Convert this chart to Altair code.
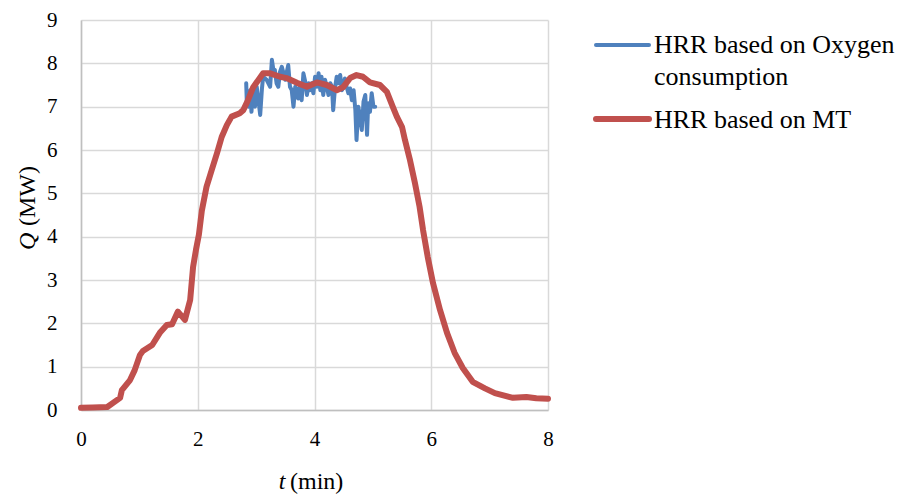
import altair as alt
import pandas as pd

# Heat release rate from mass-transfer (MT) measurement
mt_t = [0.00, 0.20, 0.45, 0.67, 0.70, 0.84, 0.92, 1.01, 1.06, 1.22,
        1.35, 1.47, 1.56, 1.66, 1.78, 1.87, 1.92, 1.97, 2.02, 2.07,
        2.15, 2.24, 2.33, 2.41, 2.50, 2.58, 2.72, 2.78, 2.86, 2.95,
        3.12, 3.24, 3.41, 3.52, 3.70, 3.87, 4.04, 4.21, 4.38, 4.49,
        4.61, 4.72, 4.83, 4.95, 5.12, 5.24, 5.34, 5.41, 5.50, 5.55,
        5.63, 5.72, 5.80, 5.86, 5.94, 6.03, 6.15, 6.27, 6.40, 6.54,
        6.71, 6.92, 7.09, 7.40, 7.63, 7.80, 8.00]
mt_q = [0.05, 0.06, 0.07, 0.28, 0.46, 0.69, 0.92, 1.27, 1.36, 1.50,
        1.78, 1.96, 1.98, 2.27, 2.08, 2.54, 3.30, 3.70, 4.05, 4.60,
        5.15, 5.54, 5.93, 6.30, 6.58, 6.77, 6.85, 6.92, 7.15, 7.45,
        7.77, 7.77, 7.69, 7.66, 7.55, 7.46, 7.56, 7.50, 7.38, 7.45,
        7.66, 7.73, 7.69, 7.56, 7.50, 7.34, 7.00, 6.77, 6.53, 6.23,
        5.80, 5.24, 4.69, 4.15, 3.53, 2.93, 2.31, 1.78, 1.32, 0.97,
        0.65, 0.50, 0.39, 0.28, 0.30, 0.27, 0.26]

# Heat release rate from oxygen consumption calorimetry
ox_t = [2.83, 2.84, 2.87, 2.90, 2.92, 2.95, 2.98, 3.01, 3.04, 3.07,
        3.10, 3.12, 3.18, 3.24, 3.27, 3.30, 3.32, 3.35, 3.38, 3.41,
        3.44, 3.47, 3.50, 3.52, 3.55, 3.58, 3.61, 3.64, 3.67, 3.70,
        3.72, 3.75, 3.78, 3.81, 3.84, 3.87, 3.90, 3.92, 3.95, 3.98,
        4.01, 4.04, 4.07, 4.10, 4.12, 4.15, 4.18, 4.21, 4.24, 4.27,
        4.30, 4.32, 4.35, 4.38, 4.41, 4.44, 4.47, 4.50, 4.52, 4.55,
        4.58, 4.61, 4.64, 4.67, 4.70, 4.72, 4.75, 4.78, 4.81, 4.84,
        4.87, 4.90, 4.92, 4.95, 4.98, 5.01, 5.04]
ox_q = [7.54, 7.12, 7.00, 7.38, 6.88, 7.46, 7.00, 7.46, 7.15, 6.81,
        7.42, 7.69, 7.62, 7.46, 8.08, 7.81, 7.85, 7.54, 7.46, 7.81,
        7.92, 7.77, 7.62, 7.77, 7.96, 7.46, 7.38, 7.00, 7.46, 7.38,
        7.19, 7.46, 7.15, 7.77, 7.58, 7.27, 7.54, 7.38, 7.54, 7.31,
        7.69, 7.46, 7.77, 7.38, 7.69, 7.27, 7.62, 7.46, 7.27, 7.54,
        7.46, 6.92, 7.42, 7.69, 7.54, 7.73, 7.38, 7.46, 7.65, 7.46,
        7.31, 7.42, 7.15, 7.38, 6.92, 6.23, 7.00, 6.77, 6.46, 7.12,
        7.27, 6.35, 7.08, 6.88, 7.31, 7.00, 7.00]

series_names = ["HRR based on Oxygen consumption", "HRR based on MT"]
series_colors = ["#4F81BD", "#C0504D"]

FONT = "Times New Roman, Liberation Serif, Tinos, DejaVu Serif, serif"

ox_df = pd.DataFrame({"t": ox_t, "Q": ox_q, "series": series_names[0]})
mt_df = pd.DataFrame({"t": mt_t, "Q": mt_q, "series": series_names[1]})

x_enc = alt.X("t:Q", scale=alt.Scale(domain=[0, 8], nice=False),
              axis=alt.Axis(values=[0, 2, 4, 6, 8], title=None))
y_enc = alt.Y("Q:Q", scale=alt.Scale(domain=[0, 9], nice=False),
              axis=alt.Axis(values=list(range(10)), title=None))

ox_line = alt.Chart(ox_df).mark_line(
    color=series_colors[0], strokeWidth=4, strokeJoin="round", strokeCap="round"
).encode(x=x_enc, y=y_enc, order="t:Q")

mt_line = alt.Chart(mt_df).mark_line(
    color=series_colors[1], strokeWidth=6, strokeJoin="round", strokeCap="round"
).encode(x=x_enc, y=y_enc, order="t:Q")

one = pd.DataFrame({"k": [0]})

def label(text, x, y, size, italic=False, angle=0, align="left"):
    return alt.Chart(one).mark_text(
        text=text, font=FONT, fontSize=size, color="black",
        fontStyle="italic" if italic else "normal",
        align=align, baseline="middle", angle=angle
    ).encode(x=alt.value(x), y=alt.value(y))

def swatch(color, y, width):
    return alt.Chart(one).mark_rule(
        color=color, strokeWidth=width, strokeCap="round"
    ).encode(x=alt.value(515), x2=alt.value(568), y=alt.value(y))

# axis titles with italic symbols
y_title = label("Q", -53, 230, 24, italic=True, angle=270) + \
    label("(MW)", -53, 206, 24, angle=270)
x_title = label("t", 201, 462, 24, italic=True, align="center") + \
    label("(min)", 209, 462, 24)

# legend
legend = swatch(series_colors[0], 25, 4) + swatch(series_colors[1], 99, 6) + \
    label("HRR based on Oxygen", 573, 25, 26) + \
    label("consumption", 573, 57, 26) + \
    label("HRR based on MT", 573, 100, 26)

chart = alt.layer(ox_line, mt_line, y_title, x_title, legend).properties(
    width=467, height=390,
    autosize=alt.AutoSizeParams(type="none"),
    padding={"left": 81, "top": 20, "right": 354, "bottom": 87},
).configure_view(stroke=None).configure_axis(
    grid=True, gridColor="#d9d9d9", gridWidth=1.5,
    domainColor="#bfbfbf", domainWidth=1.5,
    ticks=False, labelFont=FONT, labelFontSize=21, labelColor="black",
    labelFlush=False,
).configure_axisX(labelPadding=18).configure_axisY(labelPadding=24)

chart.save("out.html", embed_options={"renderer": "svg", "actions": False})
